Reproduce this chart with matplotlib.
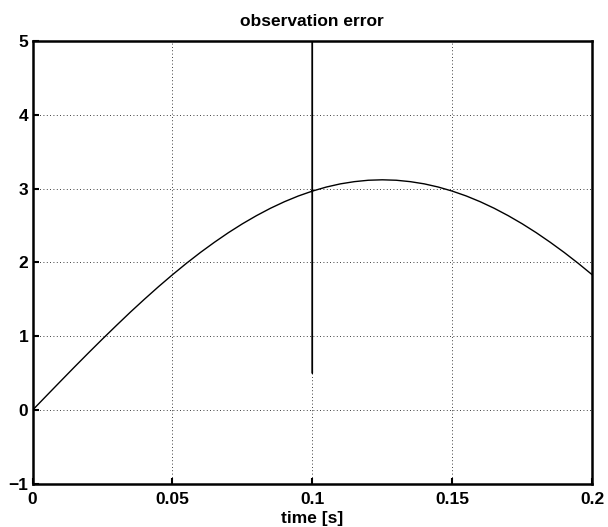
import matplotlib
matplotlib.use("Agg")
import matplotlib.pyplot as plt

# data
time = [0.0, 0.005, 0.01, 0.015, 0.02, 0.025, 0.03, 0.035, 0.04, 0.045, 0.05,
        0.055, 0.06, 0.065, 0.07, 0.075, 0.08, 0.085, 0.09, 0.095, 0.1,
        0.1, 0.1, 0.1,
        0.105, 0.11, 0.115, 0.12, 0.125, 0.13, 0.135, 0.14, 0.145, 0.15,
        0.155, 0.16, 0.165, 0.17, 0.175, 0.18, 0.185, 0.19, 0.195, 0.2]
error = [0.0, 0.196, 0.391, 0.585, 0.776, 0.964, 1.148, 1.329, 1.503, 1.672, 1.834,
         1.989, 2.136, 2.274, 2.404, 2.524, 2.634, 2.734, 2.823, 2.901, 2.967,
         0.5, 6.0, 2.967,
         3.022, 3.065, 3.095, 3.114, 3.12, 3.114, 3.095, 3.065, 3.022, 2.967,
         2.901, 2.823, 2.734, 2.634, 2.524, 2.404, 2.274, 2.136, 1.989, 1.834]
xticks = [0, 0.05, 0.1, 0.15, 0.2]
xticklabels = ["0", "0.05", "0.1", "0.15", "0.2"]
yticks = [-1, 0, 1, 2, 3, 4, 5]
yticklabels = ["\u22121", "0", "1", "2", "3", "4", "5"]

FS = 12.5
plt.rcParams['font.family'] = ['Liberation Sans', 'DejaVu Sans']
fig = plt.figure(figsize=(6.08, 5.27), dpi=100)
ax = fig.add_axes([0.0535, 0.0816, 0.9205, 0.8406])
ax.plot(time, error, color='black', linewidth=1.0)
ax.set_xlim(0, 0.2)
ax.set_ylim(-1, 5)
ax.set_xticks(xticks)
ax.set_xticklabels(xticklabels, fontweight='bold', fontsize=FS)
ax.set_yticks(yticks)
ax.set_yticklabels(yticklabels, fontweight='bold', fontsize=FS)
ax.tick_params(axis='both', direction='in', length=4, width=1.5)
ax.tick_params(axis='x', pad=6)
ax.tick_params(axis='y', pad=3)
for s in ax.spines.values():
    s.set_linewidth(1.8)
ax.grid(True, linestyle=(0, (1, 3)), color='black', linewidth=0.6)
ax.set_title("observation error", fontweight='bold', fontsize=FS, pad=11)
ax.set_xlabel("time [s]", fontweight='bold', fontsize=FS, labelpad=3)
fig.savefig("out.png", dpi=100)
